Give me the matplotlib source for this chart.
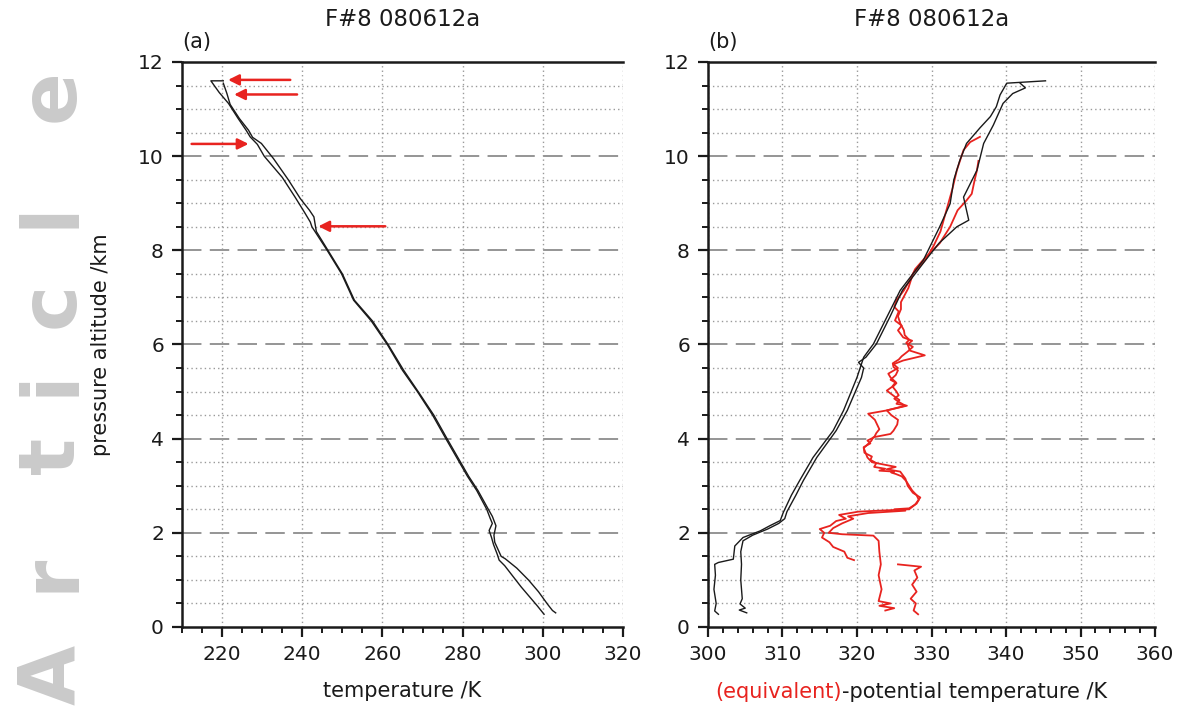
import matplotlib
matplotlib.use("Agg")
import matplotlib.pyplot as plt
import numpy as np

plt.rcParams['font.family'] = ['DejaVu Sans']
plt.rcParams['lines.scale_dashes'] = False

# (a) temperature profiles, ascent and descent
alt_t1 = [0.27, 0.45, 0.65, 0.85, 1.08, 1.30, 1.42, 1.55, 1.75, 1.90, 2.05, 2.20, 2.30, 2.50,
          2.90, 3.20, 3.60, 4.00, 4.50, 5.00, 5.45, 6.00, 6.50, 6.94, 7.50, 8.00, 8.50, 8.60,
          8.80, 9.13, 9.55, 10.00, 10.25, 10.41, 10.55, 10.80, 11.12, 11.35, 11.60, 11.60]
temp_t1 = [300.3, 298.6, 296.6, 294.6, 292.5, 290.5, 289.1, 288.6, 287.7, 287.2, 286.6, 287.4,
           286.9, 286.0, 283.5, 281.2, 278.5, 275.8, 272.5, 268.7, 265.0, 261.2, 257.2, 252.8,
           249.8, 246.2, 242.4, 242.0, 240.6, 238.2, 235.0, 230.5, 228.8, 227.0, 226.0, 224.0,
           221.6, 219.3, 217.2, 220.3]
alt_t2 = [0.30, 0.35, 0.48, 0.75, 1.00, 1.25, 1.45, 1.50, 1.80, 1.95, 2.15, 2.35, 2.50, 2.90,
          3.20, 3.60, 4.00, 4.50, 5.00, 5.45, 6.00, 6.50, 6.94, 7.50, 8.00, 8.40, 8.71, 8.85,
          9.10, 9.50, 9.95, 10.27, 10.40, 10.55, 10.80, 11.10, 11.33, 11.55]
temp_t2 = [303.2, 302.4, 301.2, 298.9, 296.4, 293.5, 290.6, 289.6, 288.0, 287.8, 288.3, 287.4,
           286.4, 283.8, 281.5, 278.8, 276.1, 272.8, 268.9, 265.3, 261.4, 257.5, 253.0, 250.0,
           246.4, 243.5, 242.9, 241.8, 239.5, 236.5, 232.8, 229.8, 227.6, 226.6, 224.3, 222.0,
           221.2, 220.3]

# red arrows in (a): (tail K, tip K, altitude km)
arrow_tail = [237.0, 238.7, 212.4, 260.7]
arrow_tip = [221.5, 223.0, 226.6, 244.0]
arrow_alt = [11.62, 11.31, 10.26, 8.51]

# (b) potential temperature (black)
alt_th1 = [0.27, 0.34, 0.50, 0.80, 1.10, 1.33, 1.37, 1.44, 1.72, 1.90, 2.04, 2.15, 2.26, 2.43,
           2.80, 3.11, 3.60, 4.17, 4.60, 5.30, 5.73, 6.01, 6.58, 7.15, 7.79, 8.50, 8.99, 9.50,
           9.91, 10.27, 10.60, 10.84, 11.05, 11.30, 11.55, 11.60]
th1 = [301.4, 300.9, 301.1, 300.8, 301.0, 300.9, 301.4, 303.4, 303.6, 304.7, 307.0, 308.3,
       309.7, 310.1, 311.2, 312.3, 314.1, 316.8, 318.2, 320.0, 320.9, 322.2, 324.0, 325.8,
       328.9, 331.1, 332.5, 333.0, 333.8, 334.7, 336.5, 337.9, 338.7, 339.2, 340.1, 345.3]
alt_th2 = [0.30, 0.36, 0.40, 0.49, 0.60, 1.00, 1.33, 1.60, 1.83, 1.95, 2.08, 2.20, 2.30, 2.45,
           2.80, 3.11, 3.60, 4.17, 4.60, 5.30, 5.50, 5.62, 5.73, 6.01, 6.58, 7.15, 7.79, 8.15,
           8.50, 8.64, 9.13, 9.70, 10.27, 10.66, 11.12, 11.33, 11.45, 11.55]
th2 = [305.2, 304.2, 305.0, 304.3, 304.6, 304.4, 304.5, 304.4, 304.7, 306.0, 308.0, 309.5,
       310.3, 310.6, 311.8, 312.8, 314.6, 317.2, 318.7, 320.6, 320.9, 320.2, 321.2, 322.6,
       324.4, 326.1, 329.2, 331.0, 333.4, 335.0, 334.3, 336.1, 337.0, 338.3, 339.6, 340.9,
       342.6, 341.9]

# (b) equivalent potential temperature (red)
alt_the1 = [0.27, 0.35, 0.50, 0.60, 0.75, 0.90, 1.05, 1.20, 1.28, 1.33, np.nan,
            1.42, 1.47, 1.60, 1.70, 1.80, 1.90, 2.00, 2.08, 2.15, 2.25, 2.30, 2.38, 2.45,
            2.50, 2.60, 2.75, 2.85, 3.00, 3.15, 3.30, 3.35, 3.40, 3.50, 3.60, 3.80, 3.95,
            4.03, 4.10, 4.17, 4.30, 4.40, 4.50, 4.60, 4.70, 4.74, 4.82, 4.90, 5.02, 5.10,
            5.20, 5.30, 5.38, 5.50, 5.58, 5.66, 5.77, 5.87, 6.00, 6.08, 6.15, 6.30, 6.40,
            6.51, 6.70, 6.80, 6.94, 7.15, 7.40, 7.60, 7.80, 8.15, 8.50, 8.85, 9.06, 9.20,
            9.50, 9.70, 9.90]
the1 = [328.2, 327.6, 327.9, 327.2, 328.0, 327.4, 328.1, 327.7, 328.6, 325.5, np.nan,
        319.6, 318.7, 318.3, 316.8, 316.3, 315.3, 315.6, 315.0, 316.4, 317.2, 318.5, 317.6,
        320.2, 327.0, 327.8, 328.5, 327.5, 326.8, 326.5, 325.8, 324.0, 325.2, 322.0, 321.4,
        320.9, 321.9, 322.2, 324.5, 324.9, 325.4, 325.5, 324.6, 324.0, 326.7, 325.3, 325.7,
        325.0, 324.0, 324.7, 325.2, 324.5, 324.2, 325.5, 324.9, 326.2, 329.1, 327.1, 326.8,
        327.4, 326.2, 325.5, 326.0, 325.1, 325.6, 325.0, 325.3, 326.3, 327.2, 327.8, 328.9,
        331.1, 332.5, 333.5, 334.7, 335.4, 335.8, 336.1, 336.3]
alt_the2 = [0.35, 0.40, 0.45, 0.50, 0.55, 0.80, 1.10, 1.33, 1.60, 1.83, 1.94, 1.97, 2.00,
            2.10, 2.20, 2.30, 2.35, 2.42, 2.47, 2.50, 2.52, 2.55, 2.62, 2.70, 2.80, 2.90,
            3.00, 3.10, 3.20, 3.25, 3.28, 3.30, 3.32, 3.36, 3.40, 3.48, 3.55, 3.62, 3.70,
            3.82, 3.90, 3.96, 4.03, 4.12, 4.20, 4.30, 4.40, 4.53, 4.60, 4.70, 4.78, 4.85,
            4.92, 5.00, 5.10, 5.18, 5.25, 5.35, 5.45, 5.52, 5.60, 5.68, 5.75, 5.85, 5.95,
            6.03, 6.10, 6.20, 6.30, 6.45, 6.60, 6.75, 6.90, 7.20, 7.50, 7.80, 8.10, 8.40,
            8.85, 9.30, 9.70, 10.13, 10.30, 10.41]
the2 = [323.8, 325.0, 323.0, 324.5, 322.9, 323.3, 322.9, 323.2, 323.0, 322.9, 322.2, 318.0,
        316.2, 316.8, 318.0, 319.5, 318.8, 321.5, 326.5, 325.0, 327.0, 327.3, 328.0, 328.3,
        328.0, 327.4, 327.0, 326.6, 326.0, 325.2, 324.6, 325.0, 323.0, 323.8, 322.3, 322.6,
        321.8, 322.0, 321.0, 320.9, 321.8, 321.4, 322.3, 322.6, 323.0, 322.7, 322.4, 321.5,
        324.0, 326.5, 325.6, 325.0, 325.6, 325.3, 324.8, 325.3, 324.5, 325.2, 325.5, 324.9,
        324.8, 325.6, 326.0, 326.8, 327.5, 326.6, 327.0, 326.4, 326.3, 325.8, 325.5, 325.9,
        325.9, 326.9, 327.5, 329.2, 330.3, 331.2, 332.0, 332.8, 333.4, 334.3, 335.2, 336.5]

y_major = [0, 2, 4, 6, 8, 10, 12]
x_major_a = [220, 240, 260, 280, 300, 320]
x_major_b = [300, 310, 320, 330, 340, 350, 360]

red = '#e8231f'
ink = '#1a1a1a'

fig = plt.figure(figsize=(11.78, 7.15), dpi=100)

# faint "Article" watermark along the left edge
wm_letters = ['A', 'r', 't', 'i', 'c', 'l', 'e']
wm_bottom_px = [705, 592, 474, 396, 328, 228, 122]
for ch, py in zip(wm_letters, wm_bottom_px):
    fig.text(74 / 1178, 1 - py / 715, ch, rotation=90, rotation_mode='anchor',
             ha='left', va='baseline', fontsize=56, fontweight='bold',
             color='#cacaca', zorder=0)

ax1 = fig.add_axes([0.1545, 0.1231, 0.3744, 0.7902])
ax2 = fig.add_axes([0.6010, 0.1231, 0.3795, 0.7902])


def style(ax, xlim, xmaj, xminor_step, tag):
    ax.set_xlim(*xlim)
    ax.set_ylim(0, 12)
    for y in np.arange(0.5, 12, 0.5):
        if y % 2 == 0:
            ax.axhline(y, color='#8c8c8c', lw=1.3, dashes=(14, 6), zorder=0)
        else:
            ax.axhline(y, color='#9a9a9a', lw=1.0, dashes=(1, 2.2), zorder=0)
    for x in xmaj:
        ax.axvline(x, color='#9a9a9a', lw=1.0, dashes=(1, 2.2), zorder=0)
    ax.set_xticks(xmaj)
    ax.set_xticks(np.arange(xlim[0], xlim[1] + 0.01, xminor_step), minor=True)
    ax.set_yticks(y_major)
    ax.set_yticks(np.arange(0, 12.01, 0.5), minor=True)
    ax.tick_params(which='major', direction='out', length=7, width=1.6,
                   labelsize=14.5, colors=ink, pad=6)
    ax.tick_params(which='minor', direction='out', length=4, width=1.4, colors=ink)
    ax.tick_params(top=False, right=False)
    ax.spines['right'].set_visible(False)
    for s in ['left', 'bottom', 'top']:
        ax.spines[s].set_linewidth(1.8)
        ax.spines[s].set_color(ink)
    ax.set_title('F#8 080612a', fontsize=16.5, pad=26, color=ink)
    ax.text(0.0, 1.035, tag, transform=ax.transAxes, ha='left', va='center',
            fontsize=15, color=ink)


style(ax1, (210, 320), x_major_a, 5, '(a)')
style(ax2, (300, 360), x_major_b, 2, '(b)')

ax1.plot(temp_t1, alt_t1, color=ink, lw=1.0)
ax1.plot(temp_t2, alt_t2, color=ink, lw=1.0)
for xt, xh, y in zip(arrow_tail, arrow_tip, arrow_alt):
    ax1.annotate('', xy=(xh, y), xytext=(xt, y),
                 arrowprops=dict(arrowstyle='-|>', color=red, lw=1.8,
                                 mutation_scale=16, shrinkA=0, shrinkB=0))

ax2.plot(the1, alt_the1, color=red, lw=1.3)
ax2.plot(the2, alt_the2, color=red, lw=1.3)
ax2.plot(th1, alt_th1, color=ink, lw=1.0)
ax2.plot(th2, alt_th2, color=ink, lw=1.0)

ax1.set_xlabel('temperature /K', fontsize=15, color=ink, labelpad=12)
ax1.set_ylabel('pressure altitude /km', fontsize=15, color=ink)
ax1.yaxis.set_label_coords(-0.16, 0.5)

# two-colour x label for panel (b)
lbl_red = fig.text(715 / 1178, 1 - 692 / 715, '(equivalent)', color=red, fontsize=15,
                   ha='left', va='center')
fig.canvas.draw()
bb = lbl_red.get_window_extent()
fig.text(bb.x1 / fig.bbox.width, 1 - 692 / 715, '-potential temperature /K', color=ink,
         fontsize=15, ha='left', va='center')

fig.savefig('out.png', dpi=100)
